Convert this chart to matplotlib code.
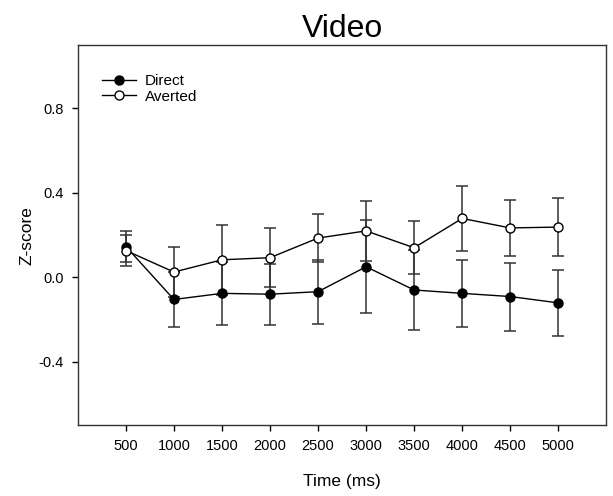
import matplotlib
matplotlib.use('Agg')
import matplotlib.pyplot as plt
import numpy as np

plt.rcParams['font.family'] = ['Liberation Sans', 'DejaVu Sans']

time_ms = [500, 1000, 1500, 2000, 2500, 3000, 3500, 4000, 4500, 5000]
direct = [0.146, -0.105, -0.076, -0.080, -0.068, 0.050, -0.060, -0.076, -0.091, -0.121]
direct_err = [0.075, 0.130, 0.148, 0.145, 0.152, 0.221, 0.189, 0.158, 0.161, 0.155]
averted = [0.127, 0.025, 0.083, 0.093, 0.186, 0.220, 0.140, 0.279, 0.234, 0.238]
averted_err = [0.072, 0.117, 0.166, 0.141, 0.113, 0.143, 0.126, 0.152, 0.133, 0.137]
y_ticks = [-0.4, 0.0, 0.4, 0.8]

fig = plt.figure(figsize=(6.13, 4.96), dpi=100)
ax = fig.add_axes([0.127, 0.143, 0.862, 0.766])

ax.errorbar(time_ms, direct, yerr=direct_err, fmt='none', ecolor='#333333',
            elinewidth=1.1, capsize=4.5, capthick=1.1, zorder=2)
ax.errorbar(time_ms, averted, yerr=averted_err, fmt='none', ecolor='#333333',
            elinewidth=1.1, capsize=4.5, capthick=1.1, zorder=2)
ax.plot(time_ms, direct, '-o', color='black', lw=1, markersize=6.5,
        markerfacecolor='black', markeredgecolor='black', label='Direct', zorder=3)
ax.plot(time_ms, averted, '-o', color='black', lw=1, markersize=6.5,
        markerfacecolor='white', markeredgecolor='black', label='Averted', zorder=4)

ax.set_xlim(0, 5500)
ax.set_ylim(-0.7, 1.1)
ax.set_xticks(time_ms)
ax.set_xticklabels([str(t) for t in time_ms], fontsize=10.5)
ax.set_yticks(y_ticks)
ax.set_yticklabels(['%.1f' % v for v in y_ticks], fontsize=10.5)
ax.tick_params(direction='out', length=4, width=1, pad=6)
for s in ax.spines.values():
    s.set_linewidth(1)
    s.set_color('#333333')

ax.set_xlabel('Time (ms)', fontsize=12.5, labelpad=15)
ax.set_ylabel('Z-score', fontsize=12.5, labelpad=3)
ax.set_title('Video', fontsize=23, pad=6)

ax.legend(loc='upper left', frameon=False, fontsize=11, handlelength=2.2,
          handletextpad=0.6, labelspacing=0.1, borderaxespad=0.5,
          bbox_to_anchor=(0.02, 0.96))

fig.savefig('out.png', dpi=100)
